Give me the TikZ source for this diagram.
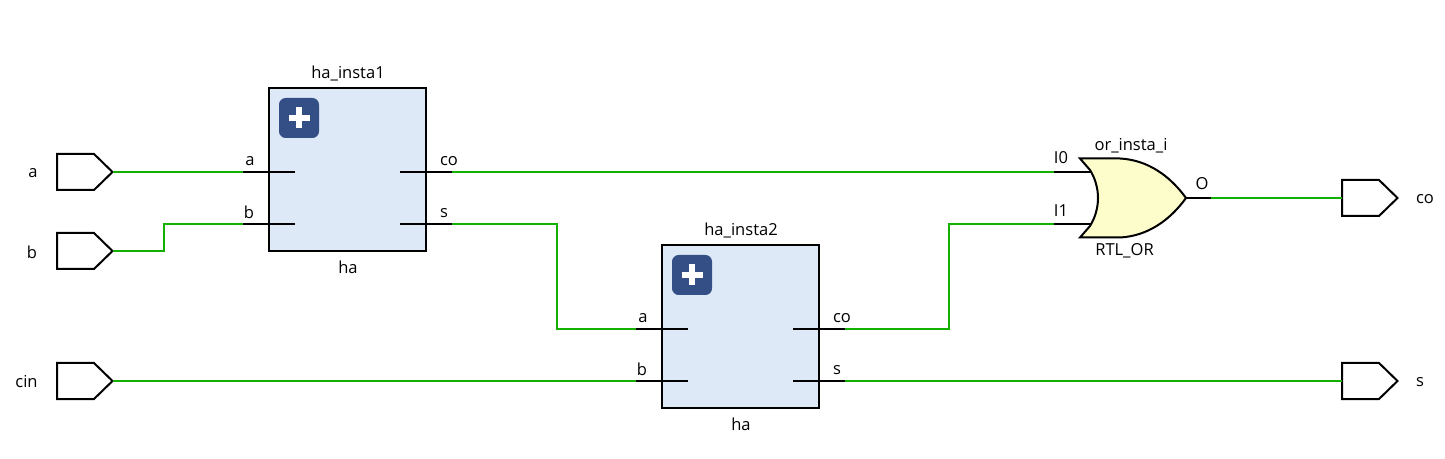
\documentclass[tikz,border=0pt]{standalone}
\usepackage{fontspec}
\setmainfont{Open Sans}
\usetikzlibrary{calc}
\definecolor{wiregreen}{HTML}{14B000}
\definecolor{blockfill}{HTML}{DEE9F8}
\definecolor{iconblue}{HTML}{334F85}
\definecolor{gatefill}{HTML}{FDFDCB}
\tikzset{
  x=0.75pt,y=-0.75pt,
  wire/.style={draw=wiregreen,line width=1.6pt,line join=miter},
  pinline/.style={draw=black,line width=1.5pt},
  outline/.style={draw=black,line width=1.5pt,line join=miter},
  block/.style={draw=black,line width=1.6pt,fill=blockfill,minimum width=117.75pt,minimum height=122.25pt,inner sep=0pt,outer sep=0pt},
  icon/.style={fill=iconblue,rounded corners=5pt,minimum size=30pt,inner sep=0pt,outer sep=0pt},
  txt/.style={font=\fontsize{12.4}{14}\selectfont,inner sep=0pt,text=black},
}
\newcommand{\portshape}[2]{% name, position of the left-middle
  \coordinate (#1) at (#2);
  \draw[outline,fill=white] ($(#1)+(0,-18)$) -- ++(37,0) -- ++(18.5,18) coordinate (#1tip) -- ++(-18.5,18) -- ++(-37,0) -- cycle;
}
\newcommand{\plusicon}[2]{%
  \node[icon] (#1) at (#2) {};
  \fill[white] ($(#1)+(-10.5,-3)$) rectangle ($(#1)+(10.5,3)$);
  \fill[white] ($(#1)+(-3,-10.5)$) rectangle ($(#1)+(3,10.5)$);
}
\begin{document}
\begin{tikzpicture}
\useasboundingbox (0,0) rectangle (1445,459);
% blocks
\node[block] (h1) at (347.5,169.5) {};
\node[block] (h2) at (740.5,326.5) {};
\plusicon{i1}{299,118}
\plusicon{i2}{692,275}
% pin ends
\coordinate (h1ao) at (243,172); \coordinate (h1ai) at (295,172);
\coordinate (h1bo) at (243,224); \coordinate (h1bi) at (295,224);
\coordinate (h1ci) at (400,172); \coordinate (h1co) at (452,172);
\coordinate (h1si) at (400,224); \coordinate (h1so) at (452,224);
\coordinate (h2ao) at (636,329); \coordinate (h2ai) at (688,329);
\coordinate (h2bo) at (636,381); \coordinate (h2bi) at (688,381);
\coordinate (h2ci) at (793,329); \coordinate (h2co) at (845,329);
\coordinate (h2si) at (793,381); \coordinate (h2so) at (845,381);
\foreach \p/\q in {h1ao/h1ai,h1bo/h1bi,h1ci/h1co,h1si/h1so,h2ao/h2ai,h2bo/h2bi,h2ci/h2co,h2si/h2so}
  \draw[pinline] (\p) -- (\q);
% ports
\portshape{pa}{57,172}
\portshape{pb}{57,251}
\portshape{pc}{57,381}
\portshape{oco}{1342,198}
\portshape{os}{1342,381}
% OR gate
\coordinate (gtl) at (1080,158.5);
\coordinate (gbl) at (1080,237.5);
\coordinate (gtip) at (1186,198);
\coordinate (gi0o) at (1054,172); \coordinate (gi0i) at (1091,172);
\coordinate (gi1o) at (1054,224); \coordinate (gi1i) at (1091,224);
\coordinate (goi) at (1186,198); \coordinate (goo) at (1211,198);
\draw[pinline] (gi0o) -- (gi0i);
\draw[pinline] (gi1o) -- (gi1i);
\draw[pinline] (goi) -- (goo);
\draw[outline,fill=gatefill] (gtl) -- (1120,158.5)
  .. controls (1148,160) and (1170,176) .. (gtip)
  .. controls (1170,220) and (1148,236) .. (1120,237.5) -- (gbl)
  -- (1090,226)
  .. controls (1095,218) and (1098,208) .. (1098,198)
  .. controls (1098,188) and (1095,178) .. (1090,170) -- cycle;
% wires
\draw[wire] (patip) -- (h1ao);
\draw[wire] (pbtip) -- (164,251) -- (164,224) -- (h1bo);
\draw[wire] (pctip) -- (h2bo);
\draw[wire] (h1co) -- (gi0o);
\draw[wire] (h1so) -- (557,224) -- (557,329) -- (h2ao);
\draw[wire] (h2co) -- (949,329) -- (949,224) -- (gi1o);
\draw[wire] (h2so) -- (os);
\draw[wire] (goo) -- (oco);
% labels
\node[txt] (ta) at (33,173) {a};
\node[txt] (tb) at (32,252) {b};
\node[txt] (tc) at (26.5,382) {cin};
\node[txt] (tco) at (1425,199) {co};
\node[txt] (ts) at (1420,382) {s};
\node[txt] (n1) at (348,73) {ha\_insta1};
\node[txt] (m1) at (348,267) {ha};
\node[txt] (n2) at (741,230) {ha\_insta2};
\node[txt] (m2) at (741,424) {ha};
\node[txt] (l1) at (250,161) {a};
\node[txt] (l2) at (249,212) {b};
\node[txt] (l3) at (449,161) {co};
\node[txt] (l4) at (444,213) {s};
\node[txt] (l5) at (643,318) {a};
\node[txt] (l6) at (642,369) {b};
\node[txt] (l7) at (842,318) {co};
\node[txt] (l8) at (837,370) {s};
\node[txt] (g0) at (1061,158) {I0};
\node[txt] (g1) at (1061,211) {I1};
\node[txt] (gn) at (1131,146) {or\_insta\_i};
\node[txt] (gt) at (1124.5,251) {RTL\_OR};
\node[txt] (go) at (1202,184) {O};
\end{tikzpicture}
\end{document}
